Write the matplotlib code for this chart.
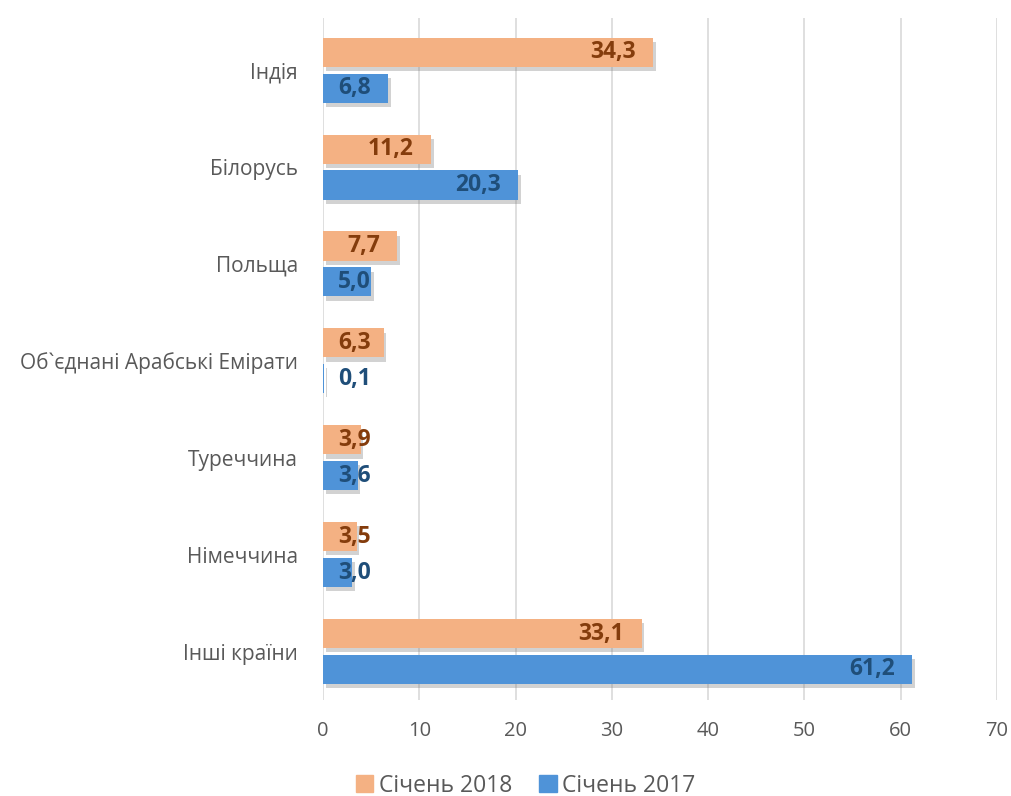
import numpy as np
import matplotlib.pyplot as plt
import matplotlib.patheffects as pe
from matplotlib.patches import Patch

countries = ['Індія', 'Білорусь', 'Польща', 'Об`єднані Арабські Емірати',
             'Туреччина', 'Німеччина', 'Інші країни']
jan_2018 = [34.3, 11.2, 7.7, 6.3, 3.9, 3.5, 33.1]
jan_2017 = [6.8, 20.3, 5.0, 0.1, 3.6, 3.0, 61.2]
series_names = ['Січень 2018', 'Січень 2017']

plt.rcParams['font.family'] = ['Open Sans', 'DejaVu Sans']

fig = plt.figure(figsize=(10.11, 7.96), dpi=100)
ax = fig.add_axes([0.3195, 0.1206, 0.6665, 0.857])

y = np.arange(len(countries))
h = 0.30
off = 0.185
shadow = [pe.SimplePatchShadow(offset=(2, -3), shadow_rgbFace='#7f7f7f', alpha=0.35), pe.Normal()]

c18, c17 = '#F4B183', '#4F93D8'
b18 = ax.barh(y - off, jan_2018, height=h, color=c18, zorder=3)
b17 = ax.barh(y + off, jan_2017, height=h, color=c17, zorder=3)
for b in list(b18) + list(b17):
    b.set_path_effects(shadow)

def fmt(v):
    return f'{v:.1f}'.replace('.', ',')

for yy, v in zip(y - off, jan_2018):
    ax.text(max(v - 1.8, 5.0), yy, fmt(v), ha='right', va='center',
            fontsize=16.5, fontweight='bold', color='#843C0C', zorder=4)
for yy, v in zip(y + off, jan_2017):
    ax.text(max(v - 1.8, 5.0), yy, fmt(v), ha='right', va='center',
            fontsize=16.5, fontweight='bold', color='#1F4E79', zorder=4)

ax.set_xlim(0, 70)
ax.set_xticks(range(0, 71, 10))
ax.set_ylim(6.5, -0.54)
ax.set_yticks(y)
ax.set_yticklabels(countries)
ax.tick_params(axis='both', length=0, colors='#595959')
ax.tick_params(axis='x', pad=15, labelsize=14.5)
ax.tick_params(axis='y', pad=18, labelsize=15)
ax.grid(axis='x', color='#D9D9D9', linewidth=1.2, zorder=0)
for s in ax.spines.values():
    s.set_visible(False)

handles = [Patch(color=c18), Patch(color=c17)]
fig.legend(handles=handles, labels=series_names, loc='lower center',
           bbox_to_anchor=(0.52, -0.028), ncol=2, frameon=False, fontsize=16.5,
           handlelength=0.75, handleheight=0.75, handletextpad=0.25, columnspacing=1.2,
           labelcolor='#595959')

fig.savefig('out.png', dpi=100)
